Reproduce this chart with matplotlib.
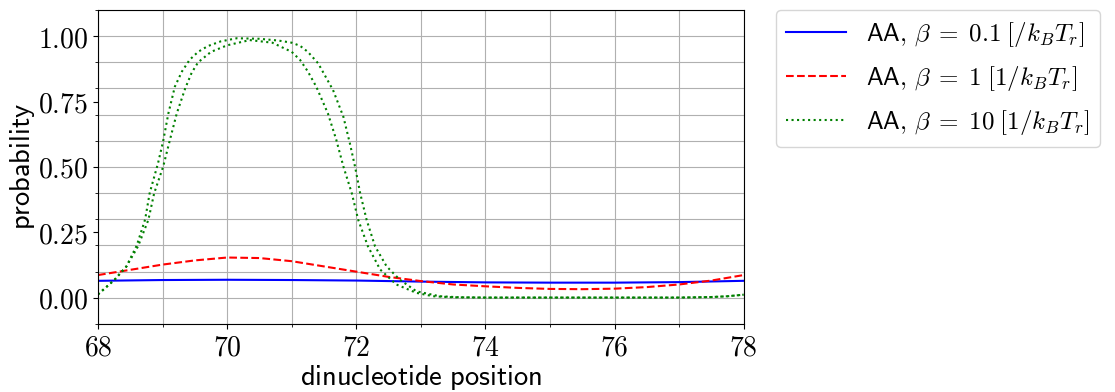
from matplotlib import pyplot as plt
from matplotlib.ticker import MultipleLocator, FuncFormatter
import numpy as np

plt.rcParams['mathtext.fontset'] = 'cm'

# beta = 0.1
x_blue = [68, 69, 70, 71, 72, 73, 74, 75, 76, 77, 78]
y_blue = [0.065, 0.068, 0.069, 0.068, 0.066, 0.062, 0.059, 0.058, 0.058, 0.060, 0.065]

# beta = 1
x_red = [68, 68.5, 69, 69.5, 70, 70.5, 71, 71.5, 72, 72.5, 73, 73.5, 74, 74.5,
         75, 75.5, 76, 76.5, 77, 77.5, 78]
y_red = [0.087, 0.107, 0.127, 0.143, 0.154, 0.152, 0.140, 0.120, 0.100, 0.080,
         0.064, 0.051, 0.044, 0.038, 0.034, 0.033, 0.035, 0.041, 0.051, 0.066, 0.087]

# beta = 10, two dotted green curves
x_g1 = [68.0, 68.26, 68.44, 68.6, 68.73, 68.8, 68.93, 69.01, 69.09, 69.19, 69.3,
        69.42, 69.55, 69.7, 69.9, 70.15, 70.5, 70.8, 71.0, 71.13, 71.25, 71.41,
        71.64, 71.8, 71.9, 71.98, 72.06, 72.16, 72.29, 72.47, 72.67, 72.93, 73.29,
        73.6, 74, 75, 76, 77, 77.5, 77.75, 78]
y_g1 = [0.013, 0.07, 0.12, 0.2, 0.3, 0.4, 0.515, 0.6, 0.705, 0.807, 0.865,
        0.91, 0.94, 0.962, 0.98, 0.992, 0.99, 0.983, 0.975, 0.963, 0.94, 0.896,
        0.794, 0.692, 0.591, 0.502, 0.40, 0.298, 0.197, 0.12, 0.07, 0.025, 0.006,
        0.002, 0.001, 0.001, 0.001, 0.001, 0.003, 0.006, 0.012]

x_g2 = [68.0, 68.26, 68.44, 68.62, 68.78, 68.87, 69.01, 69.11, 69.22, 69.35, 69.45,
        69.55, 69.75, 70.0, 70.35, 70.7, 71.0, 71.13, 71.25, 71.38, 71.56, 71.69,
        71.8, 71.93, 72.03, 72.18, 72.37, 72.62, 72.93, 73.19, 73.5, 74, 75, 76, 77,
        77.5, 77.75, 78]
y_g2 = [0.013, 0.07, 0.12, 0.197, 0.298, 0.40, 0.502, 0.60, 0.705, 0.80, 0.86,
        0.90, 0.94, 0.965, 0.985, 0.975, 0.94, 0.909, 0.865, 0.807, 0.705, 0.604,
        0.502, 0.40, 0.298, 0.197, 0.108, 0.051, 0.019, 0.006, 0.002, 0.001, 0.001,
        0.001, 0.001, 0.003, 0.006, 0.012]

labels = [r'$\mathsf{AA,}\,\beta\;=\;0.1\;[/k_BT_r]$',
          r'$\mathsf{AA,}\,\beta\;=\;1\;[1/k_BT_r]$',
          r'$\mathsf{AA,}\,\beta\;=\;10\;[1/k_BT_r]$']

fig = plt.figure(figsize=(11.15, 3.92), dpi=100)
ax = fig.add_axes([0.0879, 0.1735, 0.5791, 0.801])

ax.plot(x_blue, y_blue, 'b-', lw=1.5, label=labels[0])
ax.plot(x_red, y_red, 'r--', lw=1.5, label=labels[1])
ax.plot(x_g1, y_g1, 'g:', lw=1.5, label=labels[2])
ax.plot(x_g2, y_g2, 'g:', lw=1.5)

ax.set_xlim(68, 78)
ax.set_ylim(-0.1, 1.1)
ax.xaxis.set_major_locator(MultipleLocator(2))
ax.xaxis.set_minor_locator(MultipleLocator(1))
ax.yaxis.set_major_locator(MultipleLocator(0.25))
ax.yaxis.set_minor_locator(MultipleLocator(0.1))
ax.xaxis.remove_overlapping_locs = False
ax.yaxis.remove_overlapping_locs = False
ax.xaxis.set_major_formatter(FuncFormatter(lambda v, p: r'$%d$' % round(v)))
ax.yaxis.set_major_formatter(FuncFormatter(lambda v, p: r'$%.2f$' % v))
ax.tick_params(which='major', labelsize=20)
ax.grid(which='minor', color='#b0b0b0', lw=0.8)

ax.set_xlabel(r'$\mathsf{dinucleotide\ position}$', fontsize=20.5, labelpad=1)
ax.set_ylabel(r'$\mathsf{probability}$', fontsize=20.5, labelpad=1)

ax.legend(loc='upper left', bbox_to_anchor=(1.05, 1.0), borderaxespad=0,
          fontsize=18, handlelength=2.4, handletextpad=0.8, labelspacing=0.6)

plt.savefig('out.png', dpi=100)
